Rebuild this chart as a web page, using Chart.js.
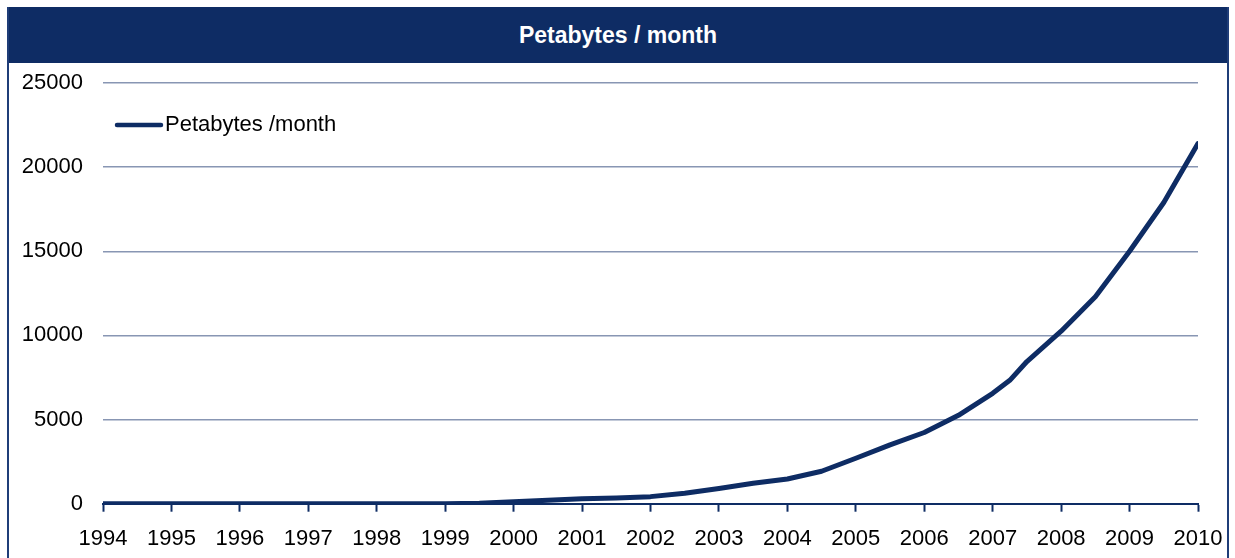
<!DOCTYPE html>
<html>
<head>
<meta charset="utf-8">
<script src="https://cdn.jsdelivr.net/npm/chart.js@4"></script>
<style>
    html, body { margin: 0; padding: 0; background: #fff; }
    body { width: 1235px; height: 558px; overflow: hidden; font-family: "Liberation Sans", Arial, sans-serif; }
    #frame {
        position: absolute; left: 7px; top: 7px; width: 1218px; height: 560px;
        border-left: 2px solid #1f3d78; border-right: 2px solid #1f3d78;
    }
    #titleBar {
        height: 56px; background: #0e2c64; color: #fff;
        font: bold 23px "Liberation Sans", Arial, sans-serif;
        display: flex; align-items: center; justify-content: center;
    }
    #chartBox { position: relative; width: 1218px; height: 495px; }
</style>
</head>
<body>
<div id="frame">
    <div id="titleBar">Petabytes / month</div>
    <div id="chartBox"><canvas id="trafficChart"></canvas></div>
</div>
<script>
// datos (año, petabytes por mes)
const years = [1994, 1995, 1996, 1997, 1998, 1999, 1999.5, 2000, 2000.5, 2001, 2001.5, 2002, 2002.5,
    2003, 2003.5, 2004, 2004.5, 2005, 2005.5, 2006, 2006.5, 2007, 2007.25, 2007.5, 2008, 2008.5,
    2009, 2009.5, 2010];
const petabytes = [0, 0, 0, 0, 0, 0, 30, 110, 200, 300, 340, 420, 620,
    900, 1210, 1470, 1930, 2700, 3500, 4230, 5250, 6560, 7330, 8450, 10250, 12300,
    15000, 17900, 21400];
const seriesLabel = 'Petabytes /month';
const yTicks = [0, 5000, 10000, 15000, 20000, 25000];

const navy = '#0e2c64';
const labelFont = { family: '"Liberation Sans", Arial, sans-serif', size: 22 };

// leyenda dentro del area del grafico, arriba a la izquierda
const insideLegend = {
    id: 'insideLegend',
    afterDatasetsDraw(chart) {
        const ctx = chart.ctx;
        const ds = chart.data.datasets[0];
        const x0 = chart.chartArea.left + 14;
        const y0 = chart.chartArea.top + 42;
        ctx.save();
        ctx.strokeStyle = ds.borderColor;
        ctx.lineWidth = 4.5;
        ctx.lineCap = 'round';
        ctx.beginPath();
        ctx.moveTo(x0, y0);
        ctx.lineTo(x0 + 44, y0);
        ctx.stroke();
        ctx.fillStyle = '#000';
        ctx.font = '22px "Liberation Sans", Arial, sans-serif';
        ctx.textBaseline = 'middle';
        ctx.fillText(ds.label, x0 + 48, y0);
        ctx.restore();
    }
};

const ctx = document.getElementById('trafficChart').getContext('2d');
const trafficChart = new Chart(ctx, {
    type: 'line',
    data: {
        datasets: [{
            label: seriesLabel,
            data: years.map((y, i) => ({ x: y, y: petabytes[i] })),
            borderColor: navy,
            backgroundColor: navy,
            borderWidth: 5,
            borderCapStyle: 'round',
            borderJoinStyle: 'round',
            pointRadius: 0,
            tension: 0,
            fill: false
        }]
    },
    options: {
        responsive: true,
        maintainAspectRatio: false,
        animation: false,
        layout: { padding: { top: 20, right: 29, left: 0, bottom: 0 } },
        plugins: {
            legend: { display: false },
            title: { display: false },
            tooltip: { enabled: false }
        },
        scales: {
            x: {
                type: 'linear',
                min: 1994,
                max: 2010,
                afterFit: scale => {
                    scale.height = 54.3;
                    scale.paddingLeft = 0;
                    scale.paddingRight = 0;
                },
                ticks: {
                    stepSize: 1,
                    color: '#000',
                    font: labelFont,
                    padding: 14,
                    maxRotation: 0,
                    callback: v => String(v)
                },
                grid: {
                    display: true,
                    drawOnChartArea: false,
                    drawTicks: true,
                    tickLength: 8,
                    tickColor: navy,
                    tickWidth: 2
                },
                border: { display: true, color: navy, width: 2 }
            },
            y: {
                min: 0,
                max: 25000,
                afterFit: scale => {
                    scale.width = 94;
                    scale.paddingTop = 0;
                    scale.paddingBottom = 0;
                },
                afterBuildTicks: scale => { scale.ticks = yTicks.map(v => ({ value: v })); },
                ticks: {
                    color: '#000',
                    font: labelFont,
                    padding: 20,
                    callback: v => String(v)
                },
                grid: {
                    color: '#8896b3',
                    lineWidth: 1.5,
                    drawTicks: false
                },
                border: { display: false }
            }
        }
    },
    plugins: [insideLegend]
});
</script>
</body>
</html>
